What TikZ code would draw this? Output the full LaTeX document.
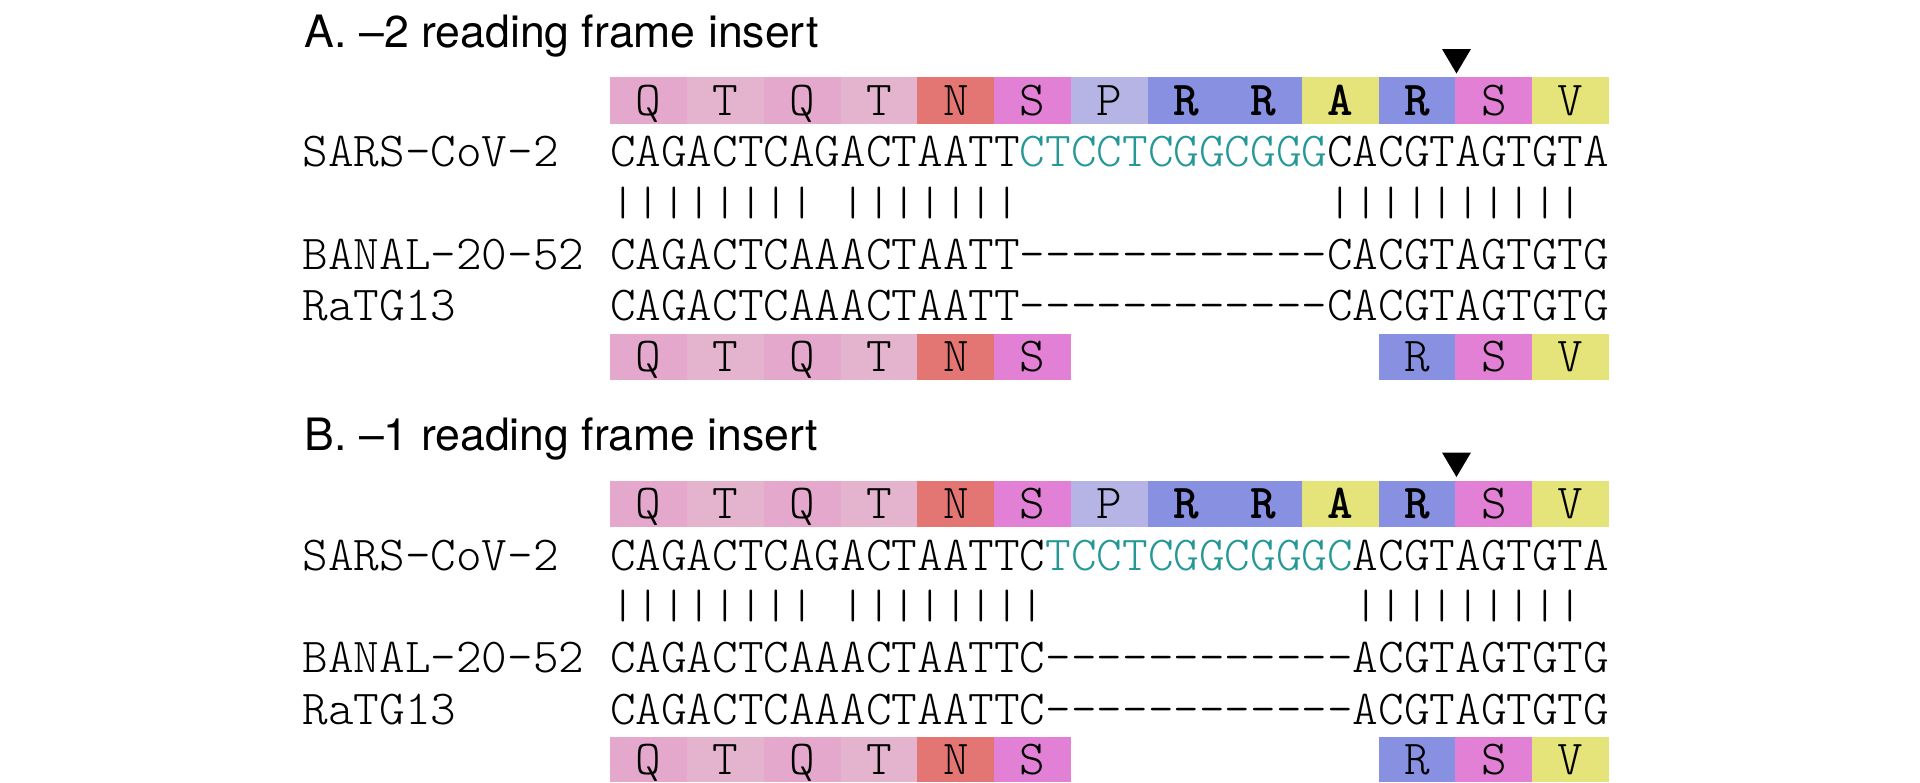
\documentclass[tikz,border=0pt]{standalone}
\usepackage{fontspec}
\usepackage{graphicx}
\usetikzlibrary{calc}
\setmainfont{TeX Gyre Heros}
\newfontfamily\sq{lmmonolt10-regular}[Extension=.otf, BoldFont=lmmonolt10-bold, Ligatures=TeXOff]
\definecolor{cQ}{RGB}{227,168,204}
\definecolor{cT}{RGB}{228,179,205}
\definecolor{cN}{RGB}{227,118,115}
\definecolor{cS}{RGB}{226,128,214}
\definecolor{cP}{RGB}{181,180,228}
\definecolor{cR}{RGB}{136,144,226}
\definecolor{cA}{RGB}{228,228,122}
\definecolor{ins}{RGB}{36,152,150}
\newcommand\barz[1]{\resizebox*{\width}{16pt}{#1}}
\tikzset{
  sqtext/.style={inner sep=0pt, outer sep=0pt, anchor=base west,
    font=\sq\fontsize{24.4pt}{24.4pt}\selectfont},
  sqbar/.style={sqtext, anchor=west},
  aabox/.style={fill=#1, draw=none, inner sep=0pt, outer sep=0pt,
    minimum width=38.43pt, minimum height=23.25pt,
    text height=14.9pt, text depth=0pt,
    font=\sq\fontsize{24.4pt}{24.4pt}\selectfont},
  lastbox/.style={aabox=#1, minimum height=22.5pt},
  paneltitle/.style={inner sep=0pt, outer sep=0pt, anchor=base west,
    font=\fontsize{22.3pt}{26pt}\selectfont},
  marker/.style={fill=black, draw=none}
}
\begin{document}
\begin{tikzpicture}[x=0.5pt,y=-0.5pt]
\fill[white] (0,0) rectangle (1920,782);
\useasboundingbox (0,0) rectangle (1920,782);

% ---------------- Panel A ----------------
\node[paneltitle] (Atitle) at (304.5,47) {A. \textendash2 reading frame insert};
\foreach \aa/\cc [count=\i from 0] in {Q/cQ,T/cT,Q/cQ,T/cT,N/cN,S/cS,P/cP,\textbf{R}/cR,\textbf{R}/cR,\textbf{A}/cA,\textbf{R}/cR,S/cS,V/cA}
  \node[aabox=\cc] (At\i) at ({610+(\i+0.5)*76.86},100.25) {\aa};
\fill[marker] ($(At10.north east)+(1,-3.5)$) -- ++(-14.5,-24.5) -- ++(29,0) -- cycle;
\node[sqtext] (Alab1) at (302.6,166.5) {SARS-CoV-2};
\node[sqtext] (Aseq1) at (610,166.5) {CAGACTCAGACTAATT\textcolor{ins}{CTCCTCGGCGGG}CACGTAGTGTA};
\node[sqbar] (Abar1) at (610,203) {\barz{||||||||}};
\node[sqbar] (Abar2) at (840.58,203) {\barz{|||||||}};
\node[sqbar] (Abar3) at (1327.36,203) {\barz{||||||||||}};
\node[sqtext] (Alab2) at (302.6,269.3) {BANAL-20-52};
\node[sqtext] (Aseq2) at (610,269.3) {CAGACTCAAACTAATT------------CACGTAGTGTG};
\node[sqtext] (Alab3) at (302.6,320.6) {RaTG13};
\node[sqtext] (Aseq3) at (610,320.6) {CAGACTCAAACTAATT------------CACGTAGTGTG};
\foreach \k/\aa/\cc in {0/Q/cQ,1/T/cT,2/Q/cQ,3/T/cT,4/N/cN,5/S/cS,10/R/cR,11/S/cS,12/V/cA}
  \node[aabox=\cc] (Ab\k) at ({610+(\k+0.5)*76.86},357) {\aa};

% ---------------- Panel B ----------------
\node[paneltitle] (Btitle) at (304.5,450.5) {B. \textendash1 reading frame insert};
\foreach \aa/\cc [count=\i from 0] in {Q/cQ,T/cT,Q/cQ,T/cT,N/cN,S/cS,P/cP,\textbf{R}/cR,\textbf{R}/cR,\textbf{A}/cA,\textbf{R}/cR,S/cS,V/cA}
  \node[aabox=\cc] (Bt\i) at ({610+(\i+0.5)*76.86},503.75) {\aa};
\fill[marker] ($(Bt10.north east)+(1,-3.5)$) -- ++(-14.5,-24.5) -- ++(29,0) -- cycle;
\node[sqtext] (Blab1) at (302.6,570) {SARS-CoV-2};
\node[sqtext] (Bseq1) at (610,570) {CAGACTCAGACTAATTC\textcolor{ins}{TCCTCGGCGGGC}ACGTAGTGTA};
\node[sqbar] (Bbar1) at (610,606.5) {\barz{||||||||}};
\node[sqbar] (Bbar2) at (840.58,606.5) {\barz{||||||||}};
\node[sqbar] (Bbar3) at (1352.98,606.5) {\barz{|||||||||}};
\node[sqtext] (Blab2) at (302.6,672.8) {BANAL-20-52};
\node[sqtext] (Bseq2) at (610,672.8) {CAGACTCAAACTAATTC------------ACGTAGTGTG};
\node[sqtext] (Blab3) at (302.6,724.1) {RaTG13};
\node[sqtext] (Bseq3) at (610,724.1) {CAGACTCAAACTAATTC------------ACGTAGTGTG};
\foreach \k/\aa/\cc in {0/Q/cQ,1/T/cT,2/Q/cQ,3/T/cT,4/N/cN,5/S/cS,10/R/cR,11/S/cS,12/V/cA}
  \node[lastbox=\cc] (Bb\k) at ({610+(\k+0.5)*76.86},759.5) {\aa};
\end{tikzpicture}
\end{document}
